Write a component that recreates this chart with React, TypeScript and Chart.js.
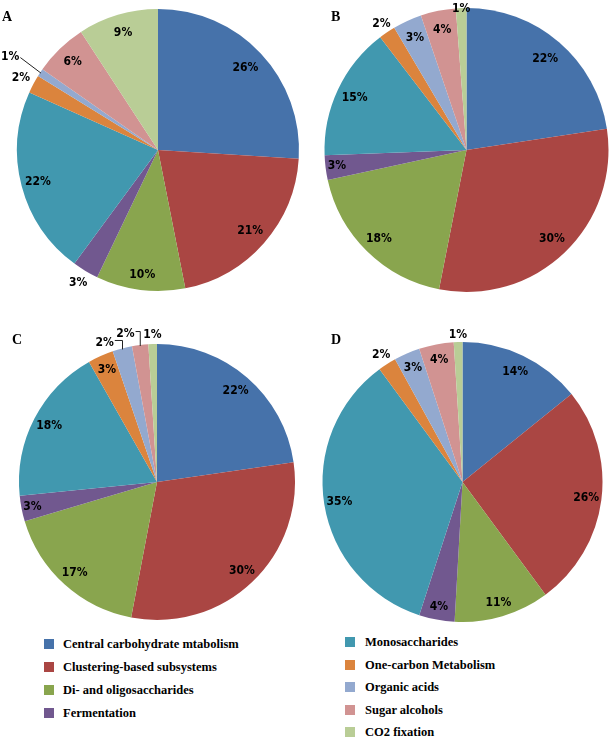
import React, { useEffect, useRef } from "react";
import { Chart, registerables } from "chart.js";

Chart.register(...registerables);

const categories = [
  "Central carbohydrate mtabolism",
  "Clustering-based subsystems",
  "Di- and oligosaccharides",
  "Fermentation",
  "Monosaccharides",
  "One-carbon Metabolism",
  "Organic acids",
  "Sugar alcohols",
  "CO2 fixation",
];

const colors = [
  "#4672AA",
  "#AA4643",
  "#89A54E",
  "#71588F",
  "#4198AF",
  "#DB843D",
  "#93A9CF",
  "#D19392",
  "#B9CD96",
];

const pieA = [26.0, 20.9, 10.2, 3.0, 21.6, 2.1, 0.9, 6.1, 9.2];
const labelsA = ["26%", "21%", "10%", "3%", "22%", "2%", "1%", "6%", "9%"];

const pieB = [22.6, 30.5, 18.5, 2.8, 15.2, 1.9, 3.3, 4.0, 1.2];
const labelsB = ["22%", "30%", "18%", "3%", "15%", "2%", "3%", "4%", "1%"];

const pieC = [22.7, 30.3, 17.4, 3.0, 18.4, 3.0, 2.3, 1.9, 1.0];
const labelsC = ["22%", "30%", "17%", "3%", "18%", "3%", "2%", "2%", "1%"];

const pieD = [14.2, 25.7, 11.0, 4.1, 34.9, 2.1, 3.0, 4.0, 1.0];
const labelsD = ["14%", "26%", "11%", "4%", "35%", "2%", "3%", "4%", "1%"];

type Spec = {
  letter: string;
  values: number[];
  texts: string[];
  box: { left: number; top: number; width: number; height: number };
  padding: { left: number; right: number; top: number; bottom: number };
  labelR: number[];
  shift: number[];
  leader: string[];
  letterPos: { left: number; top: number };
};

const specs: Spec[] = [
  {
    letter: "A",
    values: pieA,
    texts: labelsA,
    box: { left: 0, top: 0, width: 305, height: 315 },
    padding: { left: 17, right: 6, top: 9, bottom: 24 },
    labelR: [0.85, 0.87, 0.89, 1.1, 0.88, 1.1, 1.24, 0.87, 0.87],
    shift: [0, 0, 0, 0, 0, 0, -1, 0, 0],
    leader: ["", "", "", "", "", "", "line", "", ""],
    letterPos: { left: 2, top: 10 },
  },
  {
    letter: "B",
    values: pieB,
    texts: labelsB,
    box: { left: 305, top: 0, width: 304, height: 315 },
    padding: { left: 19.5, right: 0.5, top: 8, bottom: 23 },
    labelR: [0.85, 0.87, 0.88, 0.92, 0.87, 1.07, 0.87, 0.86, 0.995],
    shift: [0, 0, 0, 0, 0, 0, 0, 0, 0],
    leader: ["", "", "", "", "", "", "", "", ""],
    letterPos: { left: 331, top: 10 },
  },
  {
    letter: "C",
    values: pieC,
    texts: labelsC,
    box: { left: 0, top: 315, width: 305, height: 315 },
    padding: { left: 19, right: 10, top: 29, bottom: 10 },
    labelR: [0.87, 0.89, 0.89, 0.92, 0.88, 0.89, 1.08, 1.1, 1.07],
    shift: [0, 0, 0, 0, 0, 0, -6, -5, 0],
    leader: ["", "", "", "", "", "", "bracket", "bracket", ""],
    letterPos: { left: 12, top: 333 },
  },
  {
    letter: "D",
    values: pieD,
    texts: labelsD,
    box: { left: 305, top: 315, width: 304, height: 315 },
    padding: { left: 17.5, right: 6.5, top: 27, bottom: 8 },
    labelR: [0.87, 0.89, 0.9, 0.91, 0.89, 1.08, 0.89, 0.89, 1.05],
    shift: [0, 0, 0, 0, 0, 0, 0, 0, 0],
    leader: ["", "", "", "", "", "", "", "", ""],
    letterPos: { left: 331, top: 333 },
  },
];

const LABEL_FONT = 'bold 12px "DejaVu Sans Condensed", "Liberation Sans", sans-serif';

function PieChart({ spec }: { spec: Spec }) {
  const ref = useRef<HTMLCanvasElement | null>(null);
  useEffect(() => {
    if (!ref.current) return;
    const labelPlugin = {
      id: "pieLabels",
      afterDatasetsDraw(chart: any) {
        const ctx = chart.ctx;
        const meta = chart.getDatasetMeta(0);
        ctx.save();
        ctx.font = LABEL_FONT;
        ctx.fillStyle = "#000";
        ctx.textAlign = "center";
        ctx.textBaseline = "middle";
        meta.data.forEach((arc: any, i: number) => {
          const p = arc.getProps(["x", "y", "startAngle", "endAngle", "outerRadius"], true);
          const midRaw = (p.startAngle + p.endAngle) / 2;
          const mid = midRaw + (spec.shift[i] * Math.PI) / 180;
          const r = p.outerRadius * spec.labelR[i];
          const lx = p.x + Math.cos(mid) * r;
          const ly = p.y + Math.sin(mid) * r;
          const txt = spec.texts[i];
          ctx.fillText(txt, lx, ly);
          const kind = spec.leader[i];
          if (kind) {
            const w = ctx.measureText(txt).width;
            const ex = p.x + Math.cos(midRaw) * (p.outerRadius - 1);
            const ey = p.y + Math.sin(midRaw) * (p.outerRadius - 1);
            ctx.strokeStyle = "#222";
            ctx.lineWidth = 1;
            ctx.beginPath();
            const sx = lx + w / 2 + 1;
            if (kind === "line") {
              ctx.moveTo(sx, ly + 1);
              ctx.lineTo(ex, ey);
            } else {
              ctx.moveTo(sx, ly - 2);
              ctx.lineTo(ex, ly - 2);
              ctx.lineTo(ex, ey);
            }
            ctx.stroke();
          }
        });
        ctx.restore();
      },
    };
    const chart = new Chart(ref.current, {
      type: "pie",
      data: {
        labels: categories,
        datasets: [
          {
            data: spec.values,
            backgroundColor: colors,
            borderWidth: 0,
          },
        ],
      },
      options: {
        responsive: false,
        animation: false,
        devicePixelRatio: 1,
        layout: { padding: spec.padding },
        plugins: {
          legend: { display: false },
          tooltip: { enabled: false },
          title: { display: false },
        },
      },
      plugins: [labelPlugin],
    } as any);
    return () => chart.destroy();
  }, [spec]);
  return (
    <canvas
      ref={ref}
      width={spec.box.width}
      height={spec.box.height}
      style={{
        position: "absolute",
        left: spec.box.left,
        top: spec.box.top,
        width: spec.box.width,
        height: spec.box.height,
      }}
    />
  );
}

export default function App() {
  const legendFont = '"Liberation Serif", "Times New Roman", serif';
  return (
    <div
      style={{
        position: "fixed",
        left: 0,
        top: 0,
        width: 609,
        height: 739,
        background: "#fff",
        overflow: "hidden",
      }}
    >
      {specs.map((s) => (
        <PieChart key={s.letter} spec={s} />
      ))}
      {specs.map((s) => (
        <div
          key={"l" + s.letter}
          style={{
            position: "absolute",
            left: s.letterPos.left,
            top: s.letterPos.top,
            fontFamily: legendFont,
            fontWeight: "bold",
            fontSize: 14,
            lineHeight: "14px",
            color: "#000",
          }}
        >
          {s.letter}
        </div>
      ))}
      {categories.map((c, i) => {
        const left = i < 4;
        const cy = left ? 644 + i * 23 : 642 + (i - 4) * 22.5;
        const sqX = left ? 44 : 345;
        const txX = left ? 63 : 365;
        return (
          <React.Fragment key={c}>
            <div
              style={{
                position: "absolute",
                left: sqX,
                top: cy - 5,
                width: 10,
                height: 10,
                background: colors[i],
              }}
            />
            <div
              style={{
                position: "absolute",
                left: txX,
                top: cy - 8,
                height: 16,
                lineHeight: "16px",
                fontFamily: legendFont,
                fontWeight: "bold",
                fontSize: 12.5,
                color: "#000",
                whiteSpace: "nowrap",
              }}
            >
              {c}
            </div>
          </React.Fragment>
        );
      })}
    </div>
  );
}
